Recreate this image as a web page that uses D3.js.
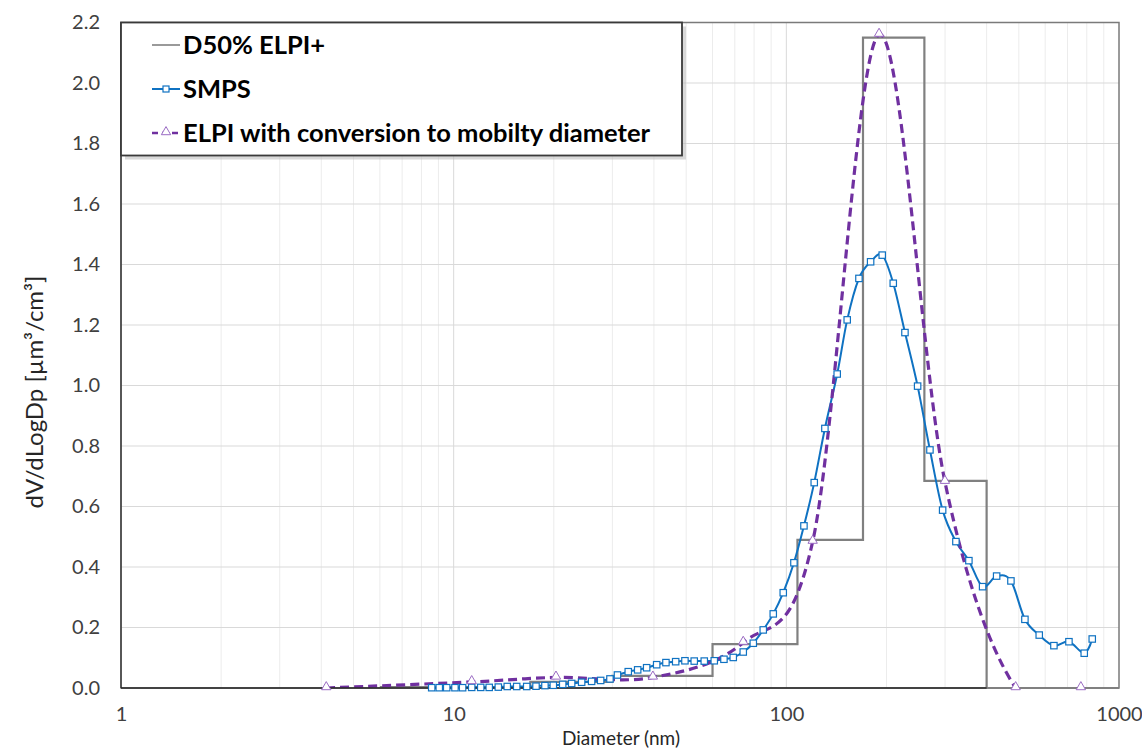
<!DOCTYPE html>
<html>
<head>
<meta charset="utf-8">
<script src="https://cdn.jsdelivr.net/npm/d3@7"></script>
<style>
  body { margin: 0; background: #fff; }
  svg { font-family: Lato, "Open Sans", sans-serif; }
</style>
</head>
<body>
<svg id="chart" width="1142" height="750"></svg>
<script>
// ELPI+ stage cut points (nm) and dV/dlogDp per stage
var elpiEdges = [6, 17, 30, 60, 108, 170, 260, 400, 1000];
var elpiValues = [0.003, 0.02, 0.04, 0.145, 0.49, 2.15, 0.685, 0];

// SMPS size channels (nm) and values
var smpsDiam = [8.59, 9.05, 9.53, 10.09, 10.64, 11.33, 12.06, 12.79, 13.62, 14.49, 15.47, 16.58,
  17.68, 18.81, 19.93, 21.27, 22.63, 24.25, 25.98, 27.66, 29.5, 31.07, 33.48, 35.74, 38.03,
  40.76, 43.46, 46.49, 49.57, 52.86, 56.66, 60.72, 64.93, 69.25, 74.21, 79.55, 85.23, 91.34,
  97.88, 105.4, 112.97, 121.3, 130.6, 142.2, 152.4, 165.3, 179.2, 194.2, 209.6, 227.3, 248.1,
  270.2, 295.0, 323.4, 353.8, 389.0, 428.7, 473.3, 521.4, 575.7, 637.3, 707.2, 786.1, 830.9];
var smpsValues = [0.001, 0.001, 0.001, 0.001, 0.001, 0.002, 0.002, 0.002, 0.003, 0.005, 0.005, 0.005,
  0.006, 0.008, 0.009, 0.012, 0.015, 0.019, 0.022, 0.025, 0.03, 0.043, 0.054, 0.060, 0.067,
  0.077, 0.084, 0.087, 0.090, 0.089, 0.089, 0.090, 0.095, 0.101, 0.119, 0.148, 0.192, 0.245,
  0.315, 0.414, 0.536, 0.679, 0.858, 1.038, 1.217, 1.354, 1.409, 1.431, 1.338, 1.175, 0.998,
  0.787, 0.588, 0.484, 0.421, 0.335, 0.370, 0.354, 0.227, 0.175, 0.140, 0.153, 0.115, 0.162];

// ELPI converted to mobility diameter
var convDiam = [4.14, 11.33, 20.3, 39.7, 74.2, 120, 190, 299.7, 489, 768];
var convValues = [0, 0.02, 0.035, 0.035, 0.15, 0.484, 2.16, 0.682, 0, 0];

var yTicks = [0, 0.2, 0.4, 0.6, 0.8, 1.0, 1.2, 1.4, 1.6, 1.8, 2.0, 2.2];
var xTicks = [1, 10, 100, 1000];
var seriesNames = ["D50% ELPI+", "SMPS", "ELPI with conversion to mobilty diameter"];

var svg = d3.select("#chart");
var pL = 121, pR = 1119, pT = 22.5, pB = 688;

var x = d3.scaleLog().domain([1, 1000]).range([pL, pR]);
var y = d3.scaleLinear().domain([0, 2.2]).range([pB, pT]);

var blue = "#0F72C2", purple = "#7030A0", grey = "#808080";

svg.append("defs").append("clipPath").attr("id", "plotclip")
  .append("rect").attr("x", pL).attr("y", pT - 2).attr("width", pR - pL).attr("height", pB - pT + 2);

// gridlines
var grid = svg.append("g");
grid.selectAll("line.v")
  .data(x.ticks().filter(function(d) { return d > 1 && d < 1000; }))
  .enter().append("line")
  .attr("x1", function(d) { return x(d); }).attr("x2", function(d) { return x(d); })
  .attr("y1", pT).attr("y2", pB)
  .attr("stroke", function(d) { return (d === 10 || d === 100) ? "#d9d9d9" : "#ececec"; })
  .attr("stroke-width", 1);
grid.selectAll("line.h")
  .data(yTicks.slice(1))
  .enter().append("line")
  .attr("x1", pL).attr("x2", pR)
  .attr("y1", function(d) { return y(d); }).attr("y2", function(d) { return y(d); })
  .attr("stroke", "#d9d9d9").attr("stroke-width", 1.2);

// plot border
svg.append("rect").attr("x", pL).attr("y", pT).attr("width", pR - pL).attr("height", pB - pT)
  .attr("fill", "none").attr("stroke", "#7a7a7a").attr("stroke-width", 1.5);
svg.append("line").attr("x1", pL).attr("x2", pL).attr("y1", pT).attr("y2", pB)
  .attr("stroke", "#404040").attr("stroke-width", 1.5);

// axes labels
var yAxis = svg.append("g").attr("transform", "translate(" + pL + ",0)")
  .call(d3.axisLeft(y).tickValues(yTicks).tickSize(0).tickPadding(21).tickFormat(d3.format(".1f")));
yAxis.select(".domain").remove();
yAxis.selectAll("text").attr("font-size", 20).attr("fill", "#404040")
  .attr("font-family", "Lato, 'Open Sans', sans-serif");

var xAxis = svg.append("g").attr("transform", "translate(0," + pB + ")")
  .call(d3.axisBottom(x).tickValues(xTicks).tickSize(0).tickPadding(19).tickFormat(d3.format("d")));
xAxis.select(".domain").remove();
xAxis.selectAll("text").attr("font-size", 20).attr("fill", "#404040")
  .attr("font-family", "Lato, 'Open Sans', sans-serif");

svg.append("text")
  .attr("transform", "translate(43,392) rotate(-90)")
  .attr("text-anchor", "middle").attr("font-size", 24).attr("fill", "#262626")
  .text("dV/dLogDp [µm³/cm³]");
svg.append("text")
  .attr("x", 621).attr("y", 745)
  .attr("text-anchor", "middle").attr("font-size", 19).attr("fill", "#262626")
  .text("Diameter (nm)");

var plot = svg.append("g").attr("clip-path", "url(#plotclip)");

// ELPI+ step line
var stepPts = elpiValues.map(function(v, i) { return [elpiEdges[i], v]; });
stepPts.push([elpiEdges[elpiEdges.length - 1], elpiValues[elpiValues.length - 1]]);
plot.append("path")
  .datum(stepPts)
  .attr("fill", "none").attr("stroke", grey).attr("stroke-width", 2.2)
  .attr("d", d3.line().curve(d3.curveStepAfter)
    .x(function(d) { return x(d[0]); }).y(function(d) { return y(d[1]); }));

// bottom axis line
svg.append("line").attr("x1", pL).attr("x2", pR).attr("y1", pB).attr("y2", pB)
  .attr("stroke", "#262626").attr("stroke-width", 1.5);
// grey step along zero to the right
svg.append("line").attr("x1", x(400)).attr("x2", pR).attr("y1", pB).attr("y2", pB)
  .attr("stroke", grey).attr("stroke-width", 2.2);

// SMPS line and markers
var smps = smpsDiam.map(function(d, i) { return [d, smpsValues[i]]; });
plot.append("path")
  .datum(smps)
  .attr("fill", "none").attr("stroke", blue).attr("stroke-width", 2)
  .attr("d", d3.line().curve(d3.curveCatmullRom.alpha(0))
    .x(function(d) { return x(d[0]); }).y(function(d) { return y(d[1]); }));

// converted ELPI dashed line
var conv = convDiam.map(function(d, i) { return [d, convValues[i]]; });
plot.append("path")
  .datum(conv)
  .attr("fill", "none").attr("stroke", purple).attr("stroke-width", 3.2)
  .attr("stroke-dasharray", "9,5")
  .attr("d", d3.line().curve(d3.curveCatmullRom.alpha(0))
    .x(function(d) { return x(d[0]); }).y(function(d) { return y(d[1]); }));

svg.selectAll("rect.sq")
  .data(smps)
  .enter().append("rect")
  .attr("class", "sq")
  .attr("x", function(d) { return x(d[0]) - 3.2; })
  .attr("y", function(d) { return y(d[1]) - 3.2; })
  .attr("width", 6.4).attr("height", 6.4)
  .attr("fill", "#fff").attr("stroke", blue).attr("stroke-width", 1.2);

var tri = d3.symbol().type(d3.symbolTriangle).size(38);
svg.selectAll("path.tri")
  .data(conv)
  .enter().append("path")
  .attr("class", "tri")
  .attr("transform", function(d) { return "translate(" + x(d[0]) + "," + (y(d[1]) - 1) + ")"; })
  .attr("d", tri)
  .attr("fill", "#fff").attr("stroke", "#9b6cc4").attr("stroke-width", 1);

// legend
var lg = svg.append("g");
lg.append("rect").attr("x", pL + 4).attr("y", pT + 4).attr("width", 561).attr("height", 133)
  .attr("fill", "#bfbfbf").attr("opacity", 0.6);
lg.append("rect").attr("x", pL).attr("y", pT).attr("width", 561).attr("height", 133)
  .attr("fill", "#fff").attr("stroke", "#3a3a3a").attr("stroke-width", 1.8);

var rows = [45, 89, 133];
seriesNames.forEach(function(name, i) {
  var ry = rows[i];
  var ln = lg.append("line").attr("x1", 152).attr("x2", 180).attr("y1", ry).attr("y2", ry);
  if (i === 0) ln.attr("stroke", grey).attr("stroke-width", 1.6);
  if (i === 1) ln.attr("stroke", blue).attr("stroke-width", 2);
  if (i === 2) ln.attr("stroke", purple).attr("stroke-width", 2.6).attr("stroke-dasharray", "6,4");
  if (i === 1) {
    lg.append("rect").attr("x", 163).attr("y", ry - 3).attr("width", 6).attr("height", 6)
      .attr("fill", "#fff").attr("stroke", blue).attr("stroke-width", 1.2);
  }
  if (i === 2) {
    lg.append("path").attr("transform", "translate(166," + (ry - 1) + ")").attr("d", tri)
      .attr("fill", "#fff").attr("stroke", "#9b6cc4").attr("stroke-width", 1);
  }
  lg.append("text").attr("x", 183).attr("y", ry).attr("dy", "0.35em")
    .attr("font-size", 25.5).attr("font-weight", "bold").attr("fill", "#000")
    .text(name);
});
</script>
</body>
</html>
